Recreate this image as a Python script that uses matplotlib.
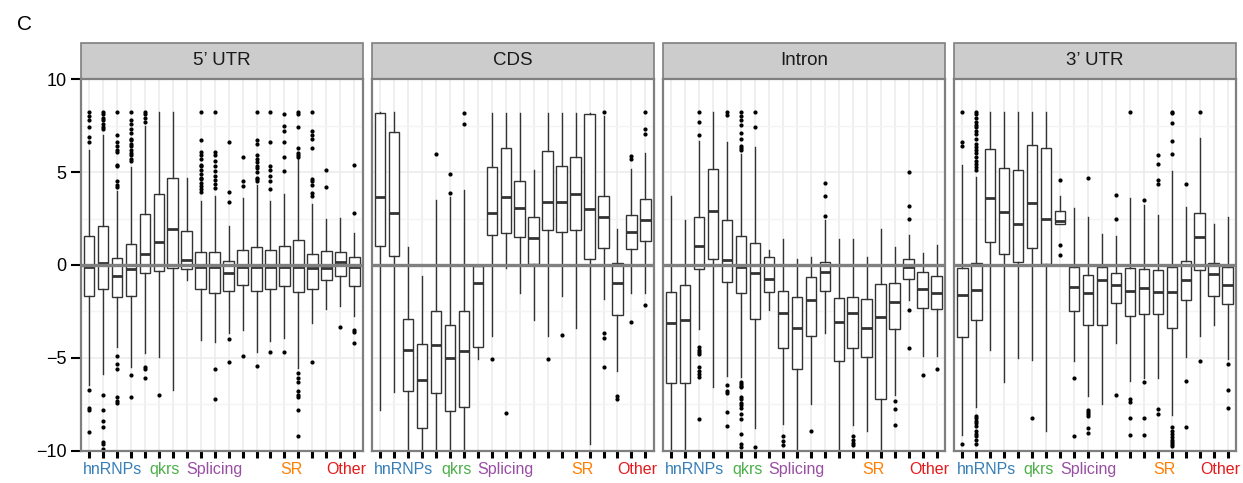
import matplotlib
matplotlib.use('Agg')
import matplotlib.pyplot as plt
import matplotlib.transforms as mtransforms
from matplotlib.patches import Rectangle

plt.rcParams['font.family'] = ['Liberation Sans', 'DejaVu Sans']

# facets
facets = ['5\u2019 UTR', 'CDS', 'Intron', '3\u2019 UTR']

# groups of the 20 boxes
group_names = ['hnRNPs', 'qkrs', 'Splicing', 'SR', 'Other']
group_pos = [2.7, 6.45, 10.0, 15.5, 19.45]
group_colors = ['#377EB8', '#4DAF4A', '#984EA3', '#FF7F00', '#E41A1C']
tick_groups = [0] * 5 + [1] * 2 + [2] * 5 + [3] * 6 + [1] + [4]

# 5' UTR
utr5_q1 = [-1.68, -1.30, -1.73, -1.66, -0.43, -0.34, -0.16, -0.21, -1.29, -1.50,
           -1.38, -1.09, -1.41, -1.30, -1.12, -1.43, -1.30, -0.80, -0.61, -1.14]
utr5_med = [-0.10, 0.09, -0.61, -0.21, 0.59, 1.21, 1.95, 0.29, -0.10, -0.13,
            -0.43, -0.10, -0.12, -0.12, -0.10, -0.12, -0.16, -0.16, 0.18, -0.12]
utr5_q3 = [1.57, 2.09, 0.37, 1.13, 2.75, 3.84, 4.70, 1.84, 0.71, 0.71,
           0.23, 0.80, 0.95, 0.82, 1.02, 1.36, 0.59, 0.75, 0.70, 0.41]
utr5_lo = [-6.46, -5.84, -4.41, -5.50, -4.73, -4.95, -6.73, -0.80, -4.05, -4.14,
           -3.66, -3.52, -4.68, -4.10, -3.90, -5.52, -3.13, -2.38, -2.20, -2.75]
utr5_hi = [6.21, 7.00, 3.98, 5.27, 7.50, 8.20, 8.20, 4.70, 3.45, 3.71,
           2.10, 3.59, 4.30, 3.45, 3.80, 5.68, 3.27, 2.46, 2.55, 1.70]
utr5_out = [
    [8.2, 8.0, 7.8, 7.4, 6.9, 6.6, -6.7, -7.7, -7.8, -9.0],
    [8.2, 8.1, 7.9, 7.8, 7.6, 7.4, 7.3, -7.0, -7.8, -8.4, -8.7, -9.5, -9.6, -9.9],
    [8.2, 7.0, 6.6, 6.4, 6.2, 6.1, 5.4, 5.3, 4.5, 4.3, 4.2, -4.9, -5.3, -5.6, -7.1, -7.3, -7.4],
    [8.2, 7.8, 7.6, 7.3, 7.1, 6.8, 6.7, 6.5, 6.4, 6.2, 6.0, 5.9, 5.7, 5.6, -5.9, -7.1],
    [8.2, 8.1, 7.9, 7.7, -5.5, -5.6, -6.1],
    [-7.0],
    [],
    [],
    [8.2, 6.7, 6.1, 5.9, 5.7, 5.4, 5.3, 5.1, 4.9, 4.7, 4.6, 4.4, 4.25, 4.1, 3.9],
    [8.2, 6.1, 5.9, 5.6, 5.3, 5.05, 4.8, 4.55, 4.35, 4.15, -5.6, -7.2],
    [6.6, 3.9, 3.4, -4.0, -5.2],
    [5.8, 4.5, 4.25, -4.9],
    [8.2, 6.7, 6.5, 5.9, 5.7, 5.55, 5.3, 5.2, 5.0, 4.7, 4.6, 4.5, -5.45],
    [8.2, 6.6, 5.3, 5.1, 4.8, 4.5, 4.1, -4.7],
    [8.1, 7.5, 7.2, 6.6, 5.8, 5.05, -4.7],
    [8.2, 8.1, 7.4, 6.3, 6.0, 5.9, 5.8, -5.8, -6.1, -6.3, -6.8, -7.0, -7.1, -7.8, -9.2],
    [8.2, 7.2, 7.0, 6.75, 6.3, 4.6, 4.5, 4.3, 3.85, 3.7, -5.2],
    [5.1, 4.2],
    [-3.35],
    [5.4, 2.8, -3.5, -3.6, -4.2],
]

# CDS
cds_q1 = [1.04, 0.48, -6.75, -8.75, -6.86, -7.86, -7.64, -4.43, 1.59, 1.70,
          1.52, 0.07, 1.86, 1.77, 1.89, 0.30, 0.91, -2.68, 0.86, 1.30]
cds_med = [3.68, 2.79, -4.57, -6.20, -4.32, -5.00, -4.62, -0.98, 2.80, 3.63,
           3.04, 1.45, 3.41, 3.41, 3.80, 3.02, 2.57, -0.98, 1.75, 2.43]
cds_q3 = [8.18, 7.13, -2.91, -4.25, -2.50, -3.20, -2.50, -0.07, 5.25, 6.30,
          4.54, 2.59, 6.13, 5.34, 5.82, 8.14, 3.73, 0.12, 2.70, 3.55]
cds_lo = [-7.82, -6.84, -11, -11, -11, -11, -11, -5.05, -3.80, -0.18,
          -1.50, -2.96, -3.80, -1.66, -3.41, -9.60, -1.84, -5.68, -1.52, -1.48]
cds_hi = [8.20, 8.20, 0.96, -0.57, 3.52, 3.64, 4.02, -0.05, 8.16, 8.16,
          8.16, 5.13, 8.16, 8.16, 8.16, 8.18, 8.00, 1.96, 5.14, 6.00]
cds_out = [
    [], [], [], [],
    [5.98],
    [4.91, 3.87],
    [8.16, 7.57],
    [],
    [-5.05],
    [-7.95],
    [], [],
    [-5.05],
    [-3.77],
    [], [],
    [8.2, -3.63, -3.9, -5.46],
    [-7.05, -7.18],
    [5.86, 5.68, -3.05],
    [8.2, 7.29, 7.02, -2.16],
]

# Intron
intron_q1 = [-6.34, -6.32, -0.20, 0.30, -0.91, -1.52, -2.91, -1.45, -4.48, -5.60,
             -3.84, -1.40, -5.18, -4.46, -4.93, -7.23, -3.46, -0.75, -2.32, -2.39]
intron_med = [-3.14, -2.95, 1.04, 2.88, 0.29, -0.10, -0.43, -0.73, -2.57, -3.38,
              -1.90, -0.36, -3.04, -2.59, -3.39, -2.80, -1.98, -0.09, -1.29, -1.52]
intron_q3 = [-1.46, -1.09, 2.59, 5.14, 2.43, 1.54, 1.20, 0.43, -1.38, -1.73,
             -0.64, 0.18, -1.75, -1.73, -1.82, -1.04, -0.95, 0.32, -0.36, -0.57]
intron_lo = [-11, -11, -3.43, -6.55, -5.95, -6.00, -8.79, -2.43, -8.55, -11,
             -7.45, -3.66, -11, -8.60, -8.90, -11, -7.00, -1.90, -4.89, -4.88]
intron_hi = [3.71, 2.43, 6.66, 8.20, 6.63, 5.95, 6.34, 0.82, 1.39, 0.30,
             0.43, 2.41, 1.39, 1.39, 0.41, 1.96, 0.98, 1.62, 0.62, 1.05]
intron_out = [
    [], [],
    [8.2, 7.7, 7.0, -4.4, -4.55, -4.7, -4.8, -5.5, -5.7, -5.85, -6.0, -8.3],
    [],
    [8.2, 8.05, -6.45, -6.8, -6.9, -7.9, -8.65],
    [8.2, 8.0, 7.8, 7.55, 7.1, 6.8, 6.4, 6.3, 6.2, -6.3, -6.4, -6.5, -6.55, -7.1,
     -7.2, -7.4, -7.55, -7.7, -8.0, -8.3, -9.1, -9.6, -9.8],
    [8.2, 7.4, -9.8],
    [],
    [-9.2, -9.45, -9.7],
    [],
    [-8.9],
    [4.4, 3.7, 2.65],
    [],
    [-9.2, -9.4, -9.55, -9.7],
    [], [],
    [-7.3, -7.75, -8.6],
    [5.0, 3.15, 2.45, -2.4, -4.45],
    [-5.9],
    [-5.6],
]

# 3' UTR
utr3_q1 = [-3.88, -2.95, 1.21, 0.59, 0.14, 0.91, 0.04, 2.20, -2.45, -3.23,
           -3.21, -2.05, -2.73, -2.61, -2.63, -3.39, -1.86, -0.27, -1.68, -2.11]
utr3_med = [-1.60, -1.34, 3.59, 2.84, 2.20, 3.36, 2.48, 2.38, -1.20, -1.50,
            -0.79, -1.09, -1.41, -1.25, -1.43, -1.43, -0.82, 1.48, -0.46, -1.09]
utr3_q3 = [-0.18, 0.12, 6.25, 5.20, 5.13, 6.43, 6.30, 2.88, -0.10, -0.54,
           -0.10, -0.45, -0.18, -0.23, -0.29, -0.10, 0.21, 2.80, 0.09, -0.09]
utr3_lo = [-9.14, -7.63, -4.59, -6.27, -4.98, -5.09, -8.93, 2.20, -5.16, -7.02,
           -7.45, -4.18, -6.25, -6.05, -6.09, -8.04, -4.95, -3.80, -3.21, -5.04]
utr3_hi = [5.36, 4.73, 8.20, 8.20, 8.20, 8.20, 8.20, 3.71, 3.09, 2.59,
           1.66, 1.57, 3.59, 3.21, 2.70, 5.05, 3.12, 6.84, 2.20, 2.59]
utr3_out = [
    [8.2, 6.6, 6.4, -9.6],
    [8.2, 8.1, 7.9, 7.7, 7.55, 7.4, 7.2, 7.05, 6.8, 6.5, 6.35, 6.2, 6.0, 5.8, 5.6,
     5.45, 5.25, 5.1, -8.1, -8.25, -8.4, -8.5, -8.65, -8.95, -9.1, -9.2, -9.4, -9.6],
    [], [], [],
    [-8.25],
    [],
    [4.55, 1.07, 0.55],
    [-6.05, -9.2],
    [4.7, -7.8, -7.9, -8.0, -8.1, -8.75, -9.05],
    [],
    [3.77, 2.46, -7.0],
    [8.2, -7.2, -7.35, -8.25, -9.15],
    [3.5, -6.3, -8.25, -9.15],
    [5.9, 5.45, 4.55, 4.35, -7.75, -8.0],
    [8.2, 8.15, 7.65, 6.65, 5.95, -8.7, -8.95, -9.1, -9.25, -9.4, -9.5, -9.65, -9.75],
    [4.35, -6.25, -8.7],
    [8.2, -5.15],
    [],
    [-5.3, -6.7, -7.7],
]

panels = [
    (utr5_q1, utr5_med, utr5_q3, utr5_lo, utr5_hi, utr5_out),
    (cds_q1, cds_med, cds_q3, cds_lo, cds_hi, cds_out),
    (intron_q1, intron_med, intron_q3, intron_lo, intron_hi, intron_out),
    (utr3_q1, utr3_med, utr3_q3, utr3_lo, utr3_hi, utr3_out),
]

fig, axes = plt.subplots(1, 4, figsize=(12.43, 4.83), dpi=100, sharey=True)
fig.subplots_adjust(left=0.0648, right=0.9944, top=0.8364, bottom=0.0663, wspace=0.032)

positions = list(range(1, 21))
line_col = '#333333'

for i, (ax, name, data) in enumerate(zip(axes, facets, panels)):
    q1, med, q3, lo, hi, out = data
    stats = [dict(q1=a, med=b, q3=c, whislo=d, whishi=e, fliers=f)
             for a, b, c, d, e, f in zip(q1, med, q3, lo, hi, out)]
    ax.bxp(stats, positions=positions, widths=0.75, showcaps=False,
           patch_artist=True,
           boxprops=dict(facecolor='white', edgecolor=line_col, linewidth=1.0),
           whiskerprops=dict(color=line_col, linewidth=1.0),
           medianprops=dict(color=line_col, linewidth=2.0),
           flierprops=dict(marker='o', markersize=2.0, markerfacecolor='black',
                           markeredgecolor='black'))
    ax.axhline(0, color='#808080', linewidth=2.4, zorder=3)

    ax.set_xlim(0.4, 20.6)
    ax.set_ylim(-10, 10)
    ax.set_yticks([-10, -5, 0, 5, 10])
    ax.set_yticks([-7.5, -2.5, 2.5, 7.5], minor=True)
    ax.set_facecolor('white')
    ax.grid(True, which='major', color='#ebebeb', linewidth=1.1)
    ax.grid(True, which='minor', axis='y', color='#f4f4f4', linewidth=1.0)
    ax.set_axisbelow(True)
    for s in ax.spines.values():
        s.set_color('#7f7f7f')
        s.set_linewidth(1.6)

    # colored x ticks
    ax.set_xticks(positions)
    ax.set_xticklabels([''] * 20)
    ax.tick_params(axis='x', length=5, width=2.2, direction='out')
    for tick, g in zip(ax.xaxis.get_major_ticks(), tick_groups):
        tick.tick1line.set_color(group_colors[g])
    trans = mtransforms.blended_transform_factory(ax.transData, ax.transAxes)
    for gname, gx, gc in zip(group_names, group_pos, group_colors):
        ax.text(gx, -0.05, gname, transform=trans, ha='center', va='center',
                fontsize=11.5, color=gc)

    if i == 0:
        ax.tick_params(axis='y', which='major', length=7, width=1.5, labelsize=13,
                       colors='black', pad=3)
        ax.tick_params(axis='y', which='minor', length=0)
    else:
        ax.tick_params(axis='y', which='both', length=0, labelleft=False)

    # strip
    ax.add_patch(Rectangle((0, 1), 1, 0.097, transform=ax.transAxes, clip_on=False,
                           facecolor='#cccccc', edgecolor='#7f7f7f', linewidth=1.2))
    ax.text(0.5, 1.0485, name, transform=ax.transAxes, ha='center', va='center',
            fontsize=13.5, color='#1a1a1a')

fig.text(0.02, 0.949, 'C', fontsize=15, ha='center', va='center')

fig.savefig('out.png', dpi=100)
